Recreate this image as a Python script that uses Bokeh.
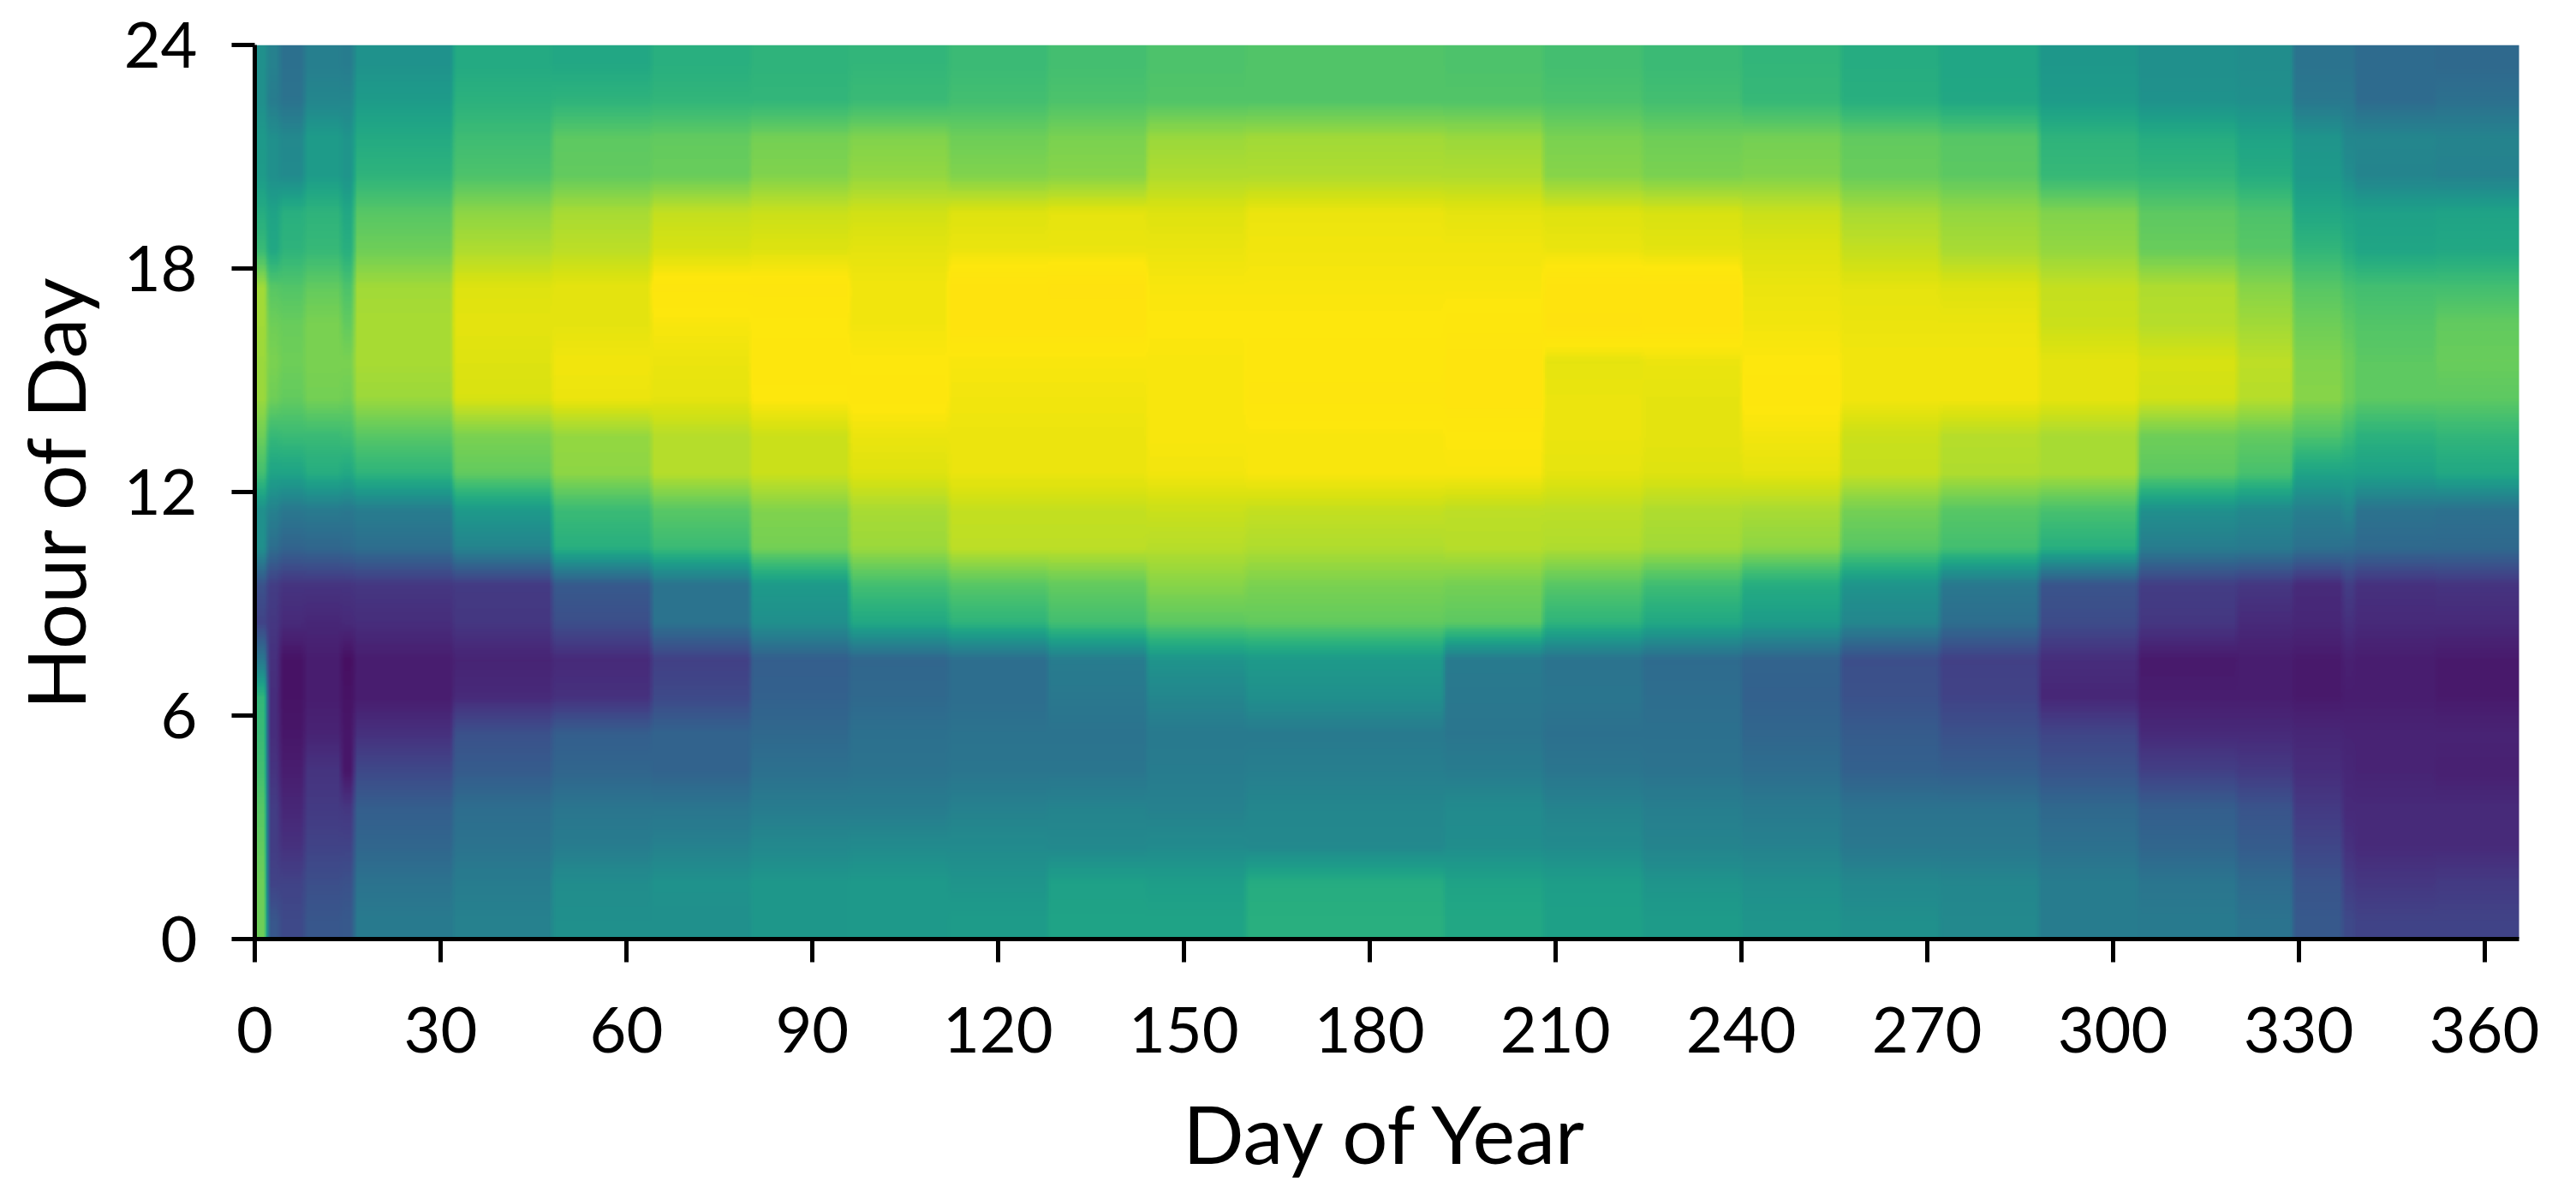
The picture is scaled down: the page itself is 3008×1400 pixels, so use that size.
import numpy as np
from bokeh.embed import file_html
from bokeh.models import FixedTicker, LinearColorMapper
from bokeh.palettes import Viridis256
from bokeh.plotting import figure
from bokeh.resources import INLINE

x_ticks = list(range(0, 361, 30))
y_ticks = [0, 6, 12, 18, 24]
x_title = "Day of Year"
y_title = "Hour of Day"

# first day of every column block, last entry is the end of the year
day_edges = [0, 2, 4, 8, 14, 16, 32, 48, 64, 80, 96, 112, 128, 144, 160, 192, 208, 224,
             240, 256, 272, 288, 304, 320, 329, 337, 339, 352, 366]

# intensity, one value per hour (0..23), one list per block
d000 = [78,78,76,74,70,68,66,40,20,25,50,50,70,78,85,85,86,86,68,62,55,54,50,50]
d002 = [27,20,18,18,15,13,13,14,16,18,36,44,58,67,78,80,78,74,60,58,50,50,42,44]
d004 = [22,20,14,11,8,6,5,5,12,15,32,40,58,68,76,78,77,73,65,63,48,47,38,37]
d008 = [27,24,20,17,15,10,8,8,11,15,33,41,62,68,79,80,80,76,67,65,55,55,46,43]
d014 = [28,25,20,16,6,6,5,4,12,15,34,40,60,69,78,80,76,72,63,60,52,52,46,42]
d016 = [41,38,33,30,22,14,8,8,13,16,36,42,65,74,85,87,87,86,78,74,65,61,55,51]
d032 = [44,42,38,36,29,25,12,10,16,17,45,54,76,80,94,95,96,95,88,83,72,69,64,61]
d048 = [50,49,42,39,33,30,14,12,24,28,63,68,83,84,97,98,96,96,90,87,76,75,65,60]
d064 = [50,51,44,39,32,32,22,19,38,38,68,74,89,89,96,97,99,102,94,91,77,76,66,63]
d080 = [53,53,47,42,37,34,31,30,50,54,79,81,92,92,100,101,100,102,95,92,81,79,66,65]
d096 = [54,54,48,42,38,37,34,33,60,70,85,87,95,97,101,100,98,98,96,93,84,81,68,66]
d112 = [55,52,48,44,39,38,36,36,65,74,90,91,97,97,98,99,104,104,97,95,81,78,70,68]
d128 = [58,57,47,45,39,38,40,42,70,76,90,91,97,97,98,99,104,105,97,96,82,80,72,70]
d144 = [58,56,48,44,42,41,46,52,75,82,89,92,98,99,99,99,100,99,97,95,88,85,73,72]
d160 = [63,62,47,46,43,41,50,54,76,80,88,91,99,99,102,101,100,99,98,97,88,86,73,73]
d192 = [60,58,49,48,42,39,40,41,75,79,89,90,99,100,103,103,101,99,98,96,88,85,73,72]
d208 = [57,56,48,45,39,37,39,38,65,74,88,90,96,97,97,96,105,104,97,95,82,80,72,70]
d224 = [55,52,45,43,38,37,36,35,60,69,86,88,95,96,96,97,104,104,96,94,80,78,70,68]
d240 = [52,50,44,41,36,33,31,32,55,62,83,87,96,98,101,100,98,97,95,92,81,79,67,66]
d256 = [50,47,40,38,31,29,25,24,46,52,74,79,91,92,98,98,97,96,91,87,77,76,63,62]
d272 = [47,46,40,38,30,25,20,19,36,40,70,74,88,89,98,98,97,95,87,84,75,74,60,59]
d288 = [42,42,37,34,26,21,11,13,23,26,63,71,87,87,96,96,92,91,84,81,67,65,55,53]
d304 = [41,39,33,30,19,12,8,7,16,18,42,50,75,78,93,94,89,88,77,75,66,62,51,50]
d320 = [38,35,29,26,17,12,8,8,12,16,41,47,71,76,89,90,86,82,74,72,62,58,50,49]
d329 = [28,26,21,17,13,11,7,7,11,12,37,43,58,72,82,81,78,74,66,60,54,52,40,38]
d337 = [22,18,14,12,11,10,8,9,14,18,36,46,58,68,78,78,75,71,62,58,49,46,40,38]
d339 = [20,16,12,12,10,10,8,8,12,14,34,38,57,64,75,75,73,70,59,57,45,46,35,35]
d352 = [20,17,12,12,9,10,7,7,12,15,34,37,60,66,75,77,76,70,60,58,44,45,37,34]

blocks = [d000, d002, d004, d008, d014, d016, d032, d048, d064, d080, d096, d112, d128, d144,
          d160, d192, d208, d224, d240, d256, d272, d288, d304, d320, d329, d337, d339, d352]

widths = np.diff(day_edges)
cells = np.repeat(np.array(blocks, dtype=float).T, widths, axis=1)

# Bokeh's image glyph scales without smoothing, so the reference's smooth image
# rendering is done here: the cells are resampled bilinearly for display.
X_END = 365.6
fine_h = (np.arange(24 * 16) + 0.5) / 16
fine_d = (np.arange(1464) + 0.5) / 4
hour_c = np.arange(24) + 0.5
day_c = np.arange(cells.shape[1]) + 0.5
by_hour = np.array([np.interp(fine_h, hour_c, cells[:, j]) for j in range(cells.shape[1])]).T
shown = np.array([np.interp(fine_d, day_c, row) for row in by_hour])

# Viridis with a more saturated yellow end, running on into a warmer yellow
rgb = [(int(c[1:3], 16), int(c[3:5], 16), int(c[5:7], 16)) for c in Viridis256]
rgb = [(r, g, b if i < 230 else b * (1 - 0.65 * (i - 230) / 25)) for i, (r, g, b) in enumerate(rgb)]
rgb += [(253 + 2 * t / 25, 231 - 9 * t / 25, 13 + 3 * t / 25) for t in range(1, 26)]
palette = ["#%02x%02x%02x" % (round(r), round(g), round(b)) for r, g, b in rgb]
mapper = LinearColorMapper(palette=palette, low=0, high=100 * len(palette) / 256)

p = figure(
    output_backend="svg", toolbar_location=None,
    frame_width=2644, frame_height=1044,
    min_border_left=297, min_border_right=50, min_border_top=52, min_border_bottom=280,
    x_range=(0, X_END), y_range=(0, 24),
    outline_line_color=None, background_fill_color="white",
)
p.image(image=[shown], x=0, y=0, dw=366, dh=24, color_mapper=mapper)

p.grid.visible = False
for axis, ticks, title in ((p.xaxis[0], x_ticks, x_title), (p.yaxis[0], y_ticks, y_title)):
    axis.ticker = FixedTicker(ticks=ticks)
    axis.axis_label = title
    axis.axis_line_width = 5
    axis.axis_line_color = "black"
    axis.major_tick_line_width = 5
    axis.major_tick_line_color = "black"
    axis.major_tick_out = 27
    axis.major_tick_in = 0
    axis.minor_tick_line_color = None
    axis.major_label_text_font = "Lato"
    axis.major_label_text_font_size = "74px"
    axis.major_label_text_color = "black"
    axis.axis_label_text_font = "Lato"
    axis.axis_label_text_font_size = "94px"
    axis.axis_label_text_font_style = "normal"
    axis.axis_label_text_color = "black"
p.xaxis[0].major_label_standoff = 52
p.yaxis[0].major_label_standoff = 40
p.xaxis[0].axis_label_standoff = 34
p.yaxis[0].axis_label_standoff = 22

open("out.html", "w").write(file_html(p, INLINE))
